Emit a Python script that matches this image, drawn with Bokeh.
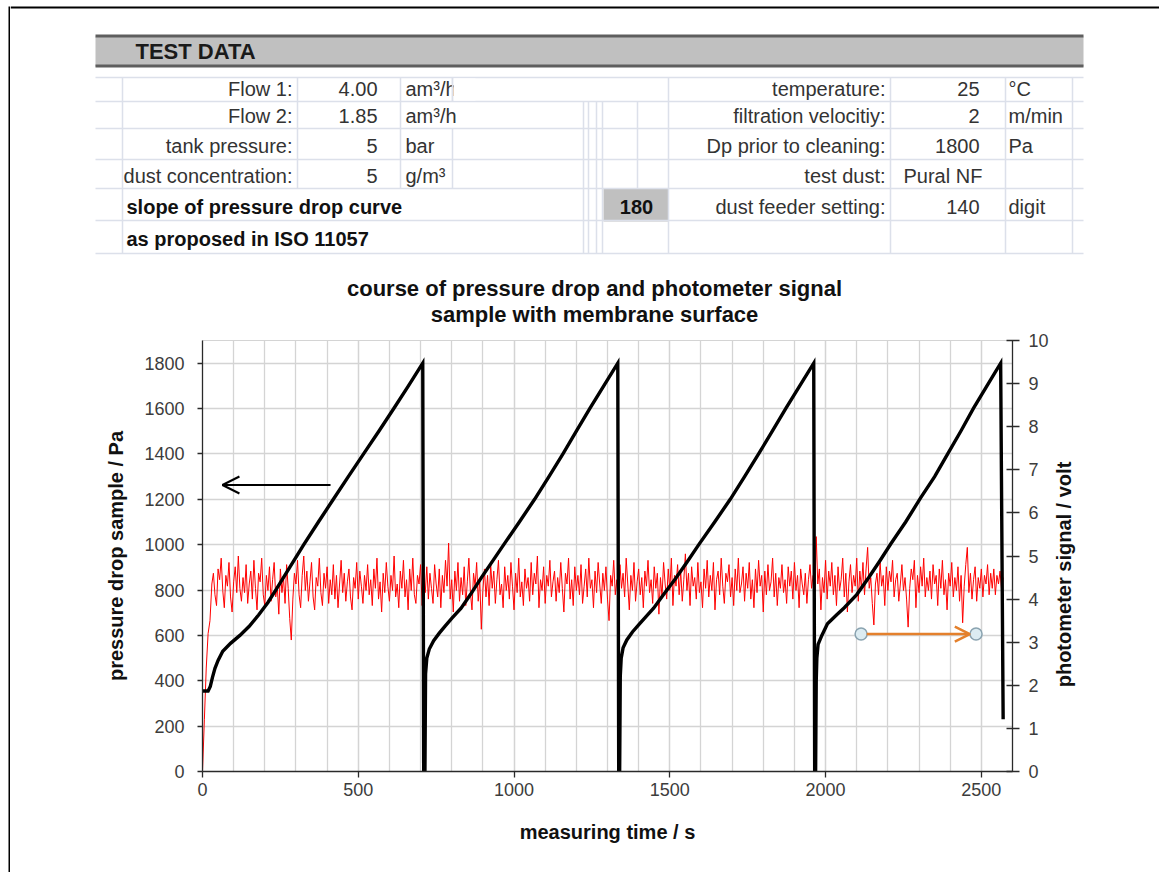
import math
from bokeh.plotting import figure
from bokeh.models import Range1d, LinearAxis, FixedTicker, Arrow, OpenHead
from bokeh.layouts import row, column
from bokeh.core.properties import value
from bokeh.embed import file_html
from bokeh.resources import INLINE

FONT = "Liberation Sans"
GRID = "#d4d4d4"
TLINE = "#dce0ea"
TXT = "#333333"

# ---------------- data ----------------
# pressure drop (black, left axis, Pa) vs time (s)
dp_time = [0, 18, 25, 32, 40, 50, 65, 90, 120, 150, 180, 210, 235, 280, 325, 372, 420, 468, 517, 566, 614, 661, 707,
           710, 714, 716, 720, 728, 742, 760, 778, 800, 830, 860, 893, 930, 967, 1017, 1066, 1112, 1157, 1200, 1243, 1288, 1333,
           1336, 1339, 1341, 1344, 1350, 1362, 1380, 1402, 1425, 1448, 1480, 1518, 1556, 1593, 1644, 1694, 1740, 1785, 1829, 1872, 1917, 1962,
           1965, 1968, 1970, 1972, 1976, 1988, 2006, 2035, 2060, 2100, 2138, 2175, 2209, 2257, 2305, 2350, 2392, 2434, 2475, 2518, 2562,
           2570]
dp_pa = [355, 355, 375, 415, 455, 490, 530, 565, 600, 640, 690, 745, 800, 900, 1000, 1100, 1200, 1300, 1400, 1500, 1600, 1700, 1800,
         0, 0, 430, 500, 540, 577, 610, 640, 675, 720, 780, 850, 925, 1000, 1100, 1200, 1300, 1400, 1500, 1600, 1700, 1800,
         0, 0, 420, 500, 545, 580, 615, 650, 685, 720, 780, 850, 925, 1000, 1100, 1200, 1300, 1400, 1500, 1600, 1700, 1800,
         0, 0, 400, 500, 560, 600, 651, 690, 722, 780, 854, 930, 1003, 1100, 1206, 1300, 1400, 1500, 1602, 1700, 1800,
         230]

# photometer signal (red, right axis, volt)
ph_ramp_time = [0, 6, 12, 18, 24]
ph_ramp_volt = [0.0, 1.2, 2.4, 3.2, 3.5]
ph_start, ph_step = 30, 5
ph_volt = [
    4.35, 4.60, 4.10, 3.85, 4.70, 4.45, 4.95, 4.20, 3.80, 4.55, 4.30, 4.85, 4.05, 3.70, 4.40, 4.75, 4.15, 5.00, 4.25, 3.95,
    4.50, 4.15, 4.80, 3.90, 4.35, 4.65, 4.00, 4.90, 4.25, 3.75, 4.60, 4.40, 4.95, 4.10, 3.85, 4.55, 4.20, 4.75, 3.95, 4.45,
    4.85, 4.05, 4.30, 3.65, 4.70, 4.15, 4.50, 3.90, 4.80, 4.25, 3.55, 3.05, 4.00, 4.60, 4.35, 4.90, 4.10, 3.80, 4.55, 5.00,
    4.20, 4.65, 3.95, 4.40, 4.85, 4.05, 3.75, 4.50, 4.30, 4.95, 4.15, 3.85, 4.60, 4.25, 4.75, 3.90, 4.45, 4.10, 4.80, 4.00,
    4.55, 3.80, 4.35, 4.90, 4.15, 4.60, 3.95, 4.40, 4.70, 4.05, 3.75, 4.50, 4.25, 4.85, 4.00, 4.65, 4.30, 3.90, 4.55, 4.20,
    4.80, 4.10, 4.45, 3.85, 4.70, 4.25, 4.95, 4.00, 4.40, 3.70, 4.60, 4.15, 4.85, 4.30, 3.95, 4.55, 4.20, 5.00, 4.05, 4.35,
    3.80, 4.65, 4.25, 4.90, 4.05, 4.45, 3.75, 4.70, 4.20, 4.95, 4.10, 3.90, 4.55, 4.35, 4.80, 3.85, 4.50, 4.15, 4.75, 4.00,
    4.60, 4.25, 3.90, 4.80, 4.35, 4.05, 4.70, 3.80, 4.55, 4.15, 4.90, 4.30, 5.30, 4.00, 4.45, 3.70, 4.65, 4.20, 4.85, 3.95,
    4.50, 4.10, 4.75, 3.85, 4.40, 4.95, 4.15, 3.75, 4.60, 4.30, 4.85, 3.95, 4.45, 3.30, 4.20, 4.70, 4.05, 4.55, 3.85, 4.80,
    4.25, 4.65, 3.90, 4.45, 4.90, 4.10, 4.35, 3.80, 4.75, 4.20, 4.55, 4.00, 4.85, 4.30, 3.75, 4.60, 4.15, 4.95, 4.05, 4.40,
    3.85, 4.70, 4.25, 4.50, 3.95, 4.85, 4.10, 4.60, 4.35, 5.00, 3.80, 4.45, 4.20, 4.75, 3.90, 4.55, 4.30, 4.90, 4.05, 4.40,
    4.65, 3.95, 4.50, 4.15, 4.85, 4.25, 3.70, 4.60, 4.35, 4.95, 4.00, 4.45, 3.85, 4.75, 4.20, 4.55, 4.10, 4.80, 3.90, 4.30,
    4.70, 4.05, 4.95, 4.25, 4.45, 3.80, 4.65, 4.15, 4.85, 4.35, 3.90, 4.60, 4.20, 4.75, 4.00, 3.50, 4.55, 4.30, 4.90, 4.10,
    4.45, 3.85, 4.80, 4.25, 4.60, 4.05, 4.95, 4.35, 3.75, 4.55, 4.20, 4.85, 3.95, 4.40, 4.70, 4.10, 4.50, 3.80, 4.65, 4.30,
    4.90, 4.15, 4.45, 3.90, 4.75, 4.25, 4.60, 3.65, 4.50, 4.05, 4.85, 4.35, 4.00, 4.70, 4.20, 4.95, 3.85, 4.55, 4.30, 4.80,
    4.10, 4.65, 3.95, 4.45, 5.05, 4.20, 4.60, 3.85, 4.75, 4.30, 4.50, 4.00, 4.85, 4.15, 4.40, 3.80, 4.70, 4.25, 4.90, 4.05,
    4.55, 4.20, 4.85, 3.75, 4.45, 4.65, 4.10, 4.95, 4.30, 3.90, 4.60, 4.40, 4.80, 4.05, 4.50, 3.85, 4.70, 4.20, 4.95, 4.15,
    4.35, 4.75, 3.95, 4.60, 4.25, 4.85, 4.00, 4.45, 3.80, 4.70, 4.15, 4.90, 4.30, 4.55, 3.70, 4.65, 4.10, 4.80, 4.20, 4.40,
    4.95, 4.05, 4.60, 3.85, 4.50, 4.25, 4.80, 4.15, 4.45, 3.90, 4.75, 4.30, 4.65, 4.00, 4.85, 4.20, 4.55, 3.80, 4.70, 4.35,
    4.10, 4.60, 3.90, 4.45, 4.80, 4.25, 4.55, 4.05, 5.45, 4.35, 4.70, 3.75, 4.50, 4.15, 4.90, 4.00, 4.65, 4.30, 4.85, 4.10,
    4.55, 3.85, 4.75, 4.20, 4.45, 4.95, 4.05, 4.60, 3.70, 4.40, 4.80, 4.15, 4.55, 4.30, 4.95, 3.95, 4.65, 4.25, 4.85, 4.10,
    4.70, 5.20, 4.25, 4.50, 3.90, 3.40, 4.35, 4.60, 4.10, 4.85, 4.30, 4.55, 3.85, 4.75, 4.20, 4.65, 4.40, 4.90, 4.05, 4.45,
    4.60, 3.95, 4.35, 4.80, 4.20, 4.50, 4.00, 3.35, 4.25, 4.70, 4.45, 4.90, 3.80, 4.55, 4.15, 4.75, 4.30, 4.95, 4.05, 4.50,
    4.20, 4.65, 4.00, 4.80, 4.35, 4.55, 3.85, 4.70, 4.25, 4.90, 4.10, 4.45, 3.75, 4.60, 4.30, 4.85, 4.05, 4.50, 4.20, 4.75,
    3.95, 4.55, 3.45, 4.30, 4.80, 5.20, 4.15, 4.60, 4.00, 4.45, 4.75, 3.95, 4.50, 4.25, 4.70, 4.05, 4.55, 4.35, 4.80, 4.10,
    4.60, 4.25, 4.70, 4.10, 4.55, 4.35, 4.65, 4.20, 4.50,
]
ph_time = ph_ramp_time + [ph_start + ph_step * i for i in range(len(ph_volt))]
ph_all = ph_ramp_volt + ph_volt

x_ticks = [0, 500, 1000, 1500, 2000, 2500]
x_minor = list(range(0, 2601, 100))
y_ticks = list(range(0, 1801, 200))
v_ticks = list(range(0, 11))

# annotation arrows
left_arrow = dict(t0=411, t1=64, pa=1263)
right_arrow = dict(t0=2114, t1=2483, volt=3.19)

# texts
title_lines = ["course of pressure drop and photometer signal", "sample with membrane surface"]
x_label = "measuring time / s"
y_label = "pressure drop sample / Pa"
y2_label = "photometer signal / volt"

# test data table
left_labels = ["Flow 1:", "Flow 2:", "tank pressure:", "dust concentration:"]
left_values = ["4.00", "1.85", "5", "5"]
left_units = ["am³/h", "am³/h", "bar", "g/m³"]
right_labels = ["temperature:", "filtration velocitiy:", "Dp prior to cleaning:", "test dust:", "dust feeder setting:"]
right_values = ["25", "2", "1800", "", "140"]
right_units = ["°C", "m/min", "Pa", "", "digit"]
test_dust = "Pural NF"
slope_lines = ["slope of pressure drop curve", "as proposed in ISO 11057"]
slope_value = "180"


def no_align(fig):
    if "frame_align" in fig.properties():
        fig.frame_align = False


def blank(width, height, xr, yr):
    f = figure(width=width, height=height, x_range=Range1d(*xr), y_range=Range1d(*yr),
               x_axis_type=None, y_axis_type=None, toolbar_location=None,
               output_backend="svg", min_border=0, outline_line_color=None)
    no_align(f)
    return f


# ---------------- left border strip ----------------
strip = blank(10, 872, (0, 10), (872, 0))
strip.quad(left=[8], right=[10], top=[6], bottom=[872], fill_color="black", line_color=None)

# ---------------- table + title figure ----------------
tf = blank(1149, 330, (10, 1159), (330, 0))
tf.quad(left=[10], right=[1159], top=[6], bottom=[8], fill_color="black", line_color=None)
# header bar
tf.quad(left=[95], right=[1083], top=[36], bottom=[66], fill_color="#c0c0c0", line_color=None)
tf.quad(left=[95, 95], right=[1083, 1083], top=[34, 64], bottom=[37, 67], fill_color="#5e5e5e", line_color=None)
tf.text(x=[135], y=[51], text=["TEST DATA"], text_font=value(FONT), text_font_style="bold",
        text_font_size="22px", text_color="#1a1a1a", text_baseline="middle", text_align="left")
# grey result cell
tf.quad(left=[603], right=[668], top=[188], bottom=[221], fill_color="#c0c0c0", line_color=None)

# grid lines of the sheet
h_y = [77, 101, 128, 159, 188, 220, 253]
tf.segment(x0=[95] * len(h_y), y0=h_y, x1=[1083] * len(h_y), y1=h_y, line_color=TLINE, line_width=1.5)
vx = [122, 297, 400, 452, 452, 583, 588, 596, 602, 637, 668, 890, 1005, 1072]
vy0 = [77, 77, 77, 77, 128, 101, 101, 101, 101, 101, 77, 77, 77, 77]
vy1 = [253, 188, 188, 101, 188, 253, 253, 253, 253, 188, 253, 253, 253, 253]
tf.segment(x0=vx, y0=vy0, x1=vx, y1=vy1, line_color=TLINE, line_width=1.5)

row_y = [88, 115, 145, 175, 206]
tf.text(x=[292] * 4, y=row_y[:4], text=left_labels, text_font=value(FONT), text_font_size="20px",
        text_color=TXT, text_align="right", text_baseline="middle")
tf.text(x=[377] * 4, y=row_y[:4], text=left_values, text_font=value(FONT), text_font_size="20px",
        text_color=TXT, text_align="right", text_baseline="middle")
tf.text(x=[405] * 4, y=row_y[:4], text=left_units, text_font=value(FONT), text_font_size="20px",
        text_color=TXT, text_align="left", text_baseline="middle")
tf.text(x=[885] * 5, y=row_y, text=right_labels, text_font=value(FONT), text_font_size="20px",
        text_color=TXT, text_align="right", text_baseline="middle")
tf.text(x=[979] * 5, y=row_y, text=right_values, text_font=value(FONT), text_font_size="20px",
        text_color=TXT, text_align="right", text_baseline="middle")
tf.text(x=[1008] * 5, y=row_y, text=right_units, text_font=value(FONT), text_font_size="20px",
        text_color=TXT, text_align="left", text_baseline="middle")
tf.text(x=[903], y=[row_y[3]], text=[test_dust], text_font=value(FONT), text_font_size="20px",
        text_color=TXT, text_align="left", text_baseline="middle")
tf.text(x=[126, 126], y=[206, 238], text=slope_lines, text_font=value(FONT), text_font_style="bold",
        text_font_size="20px", text_color="#111111", text_align="left", text_baseline="middle")
tf.text(x=[636], y=[206], text=[slope_value], text_font=value(FONT), text_font_style="bold",
        text_font_size="20px", text_color="#111111", text_align="center", text_baseline="middle")
# clip overflow of first unit cell (cell border at 452)
tf.quad(left=[453], right=[475], top=[78], bottom=[100], fill_color="white", line_color=None)
tf.segment(x0=[452], y0=[77], x1=[452], y1=[101], line_color=TLINE, line_width=1.5)

# chart title
tf.text(x=[594, 594], y=[288, 314], text=title_lines, text_font=value(FONT), text_font_style="bold",
        text_font_size="22px", text_color="#111111", text_align="center", text_baseline="middle")

# ---------------- chart figure ----------------
p = figure(width=1042, height=542, x_range=Range1d(0, 2600), y_range=Range1d(0, 1900),
           toolbar_location=None, output_backend="svg",
           min_border_left=192, min_border_right=40, min_border_top=10, min_border_bottom=101,
           outline_line_color=GRID, background_fill_color="white", border_fill_color="white")
no_align(p)
p.extra_y_ranges = {"volt": Range1d(0, 10)}

xt = FixedTicker(ticks=x_ticks, minor_ticks=x_minor)
yt = FixedTicker(ticks=y_ticks)
p.xaxis.ticker = xt
p.yaxis.ticker = yt
p.xgrid.ticker = xt
p.ygrid.ticker = yt
p.xgrid.grid_line_color = GRID
p.xgrid.minor_grid_line_color = GRID
p.ygrid.grid_line_color = GRID
p.xgrid.grid_line_width = 1.3
p.xgrid.minor_grid_line_width = 1.3
p.ygrid.grid_line_width = 1.3

ax_r = LinearAxis(y_range_name="volt", ticker=FixedTicker(ticks=v_ticks))
p.add_layout(ax_r, "right")

xa = p.below[0]
ya = p.left[0]
for ax in (xa, ya, ax_r):
    ax.axis_line_color = "#2a2a2a"
    ax.axis_line_width = 1.3
    ax.major_tick_line_color = "#2a2a2a"
    ax.major_tick_line_width = 1.3
    ax.minor_tick_line_color = None
    ax.major_label_text_font = FONT
    ax.major_label_text_font_size = "18px"
    ax.major_label_text_color = "#3c3c3c"
    ax.axis_label_text_font = FONT
    ax.axis_label_text_font_size = "20px"
    ax.axis_label_text_font_style = "bold"
    ax.axis_label_text_color = "#111111"

xa.major_tick_in = 0
xa.major_tick_out = 6
xa.major_label_standoff = 5
xa.axis_label = x_label
xa.axis_label_standoff = 22

ya.major_tick_in = 0
ya.major_tick_out = 5
ya.major_label_standoff = 13
ya.axis_label = y_label
ya.axis_label_standoff = 14

ax_r.major_tick_in = 6
ax_r.major_tick_out = 7
ax_r.major_label_standoff = 9

# series
p.line(ph_time, ph_all, y_range_name="volt", line_color="#ff0000", line_width=1)
p.line(dp_time, dp_pa, line_color="black", line_width=3.4, line_join="miter")

# arrows
p.add_layout(Arrow(end=OpenHead(size=17, line_color="black", line_width=2),
                   x_start=left_arrow["t0"], y_start=left_arrow["pa"],
                   x_end=left_arrow["t1"], y_end=left_arrow["pa"],
                   line_color="black", line_width=2))
p.add_layout(Arrow(end=OpenHead(size=15, line_color="#e4802c", line_width=2.5),
                   x_start=right_arrow["t0"] + 18, y_start=right_arrow["volt"],
                   x_end=right_arrow["t1"] - 20, y_end=right_arrow["volt"],
                   y_range_name="volt", line_color="#e4802c", line_width=2.5))
p.scatter([right_arrow["t0"], right_arrow["t1"]], [right_arrow["volt"]] * 2, y_range_name="volt",
          size=12, fill_color="#dcecf2", line_color="#8aa3b0", line_width=1.5)

# ---------------- right strip with the secondary axis title ----------------
rstrip = blank(107, 542, (1052, 1159), (872, 330))
rstrip.text(x=[1063], y=[574], text=[y2_label], angle=math.pi / 2, text_font=value(FONT),
            text_font_style="bold", text_font_size="20px", text_color="#111111",
            text_align="center", text_baseline="middle")

layout = row(strip, column(tf, row(p, rstrip)))
open("out.html", "w").write(file_html(layout, INLINE))
